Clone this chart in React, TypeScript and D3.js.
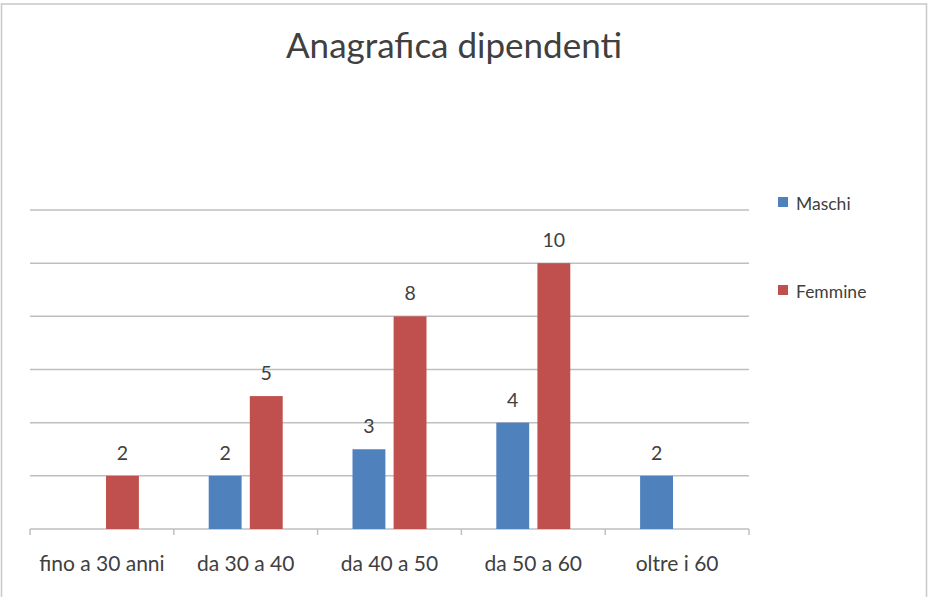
import React from "react";
import * as d3 from "d3";

const categories = ["fino a 30 anni", "da 30 a 40", "da 40 a 50", "da 50 a 60", "oltre i 60"];
const seriesNames = ["Maschi", "Femmine"];
const maschi: (number | null)[] = [null, 2, 3, 4, 2];
const femmine: (number | null)[] = [2, 5, 8, 10, null];
const yTicks = [0, 2, 4, 6, 8, 10, 12];
const colors = ["#4F81BD", "#C0504D"];
const title = "Anagrafica dipendenti";

const W = 928;
const H = 597;
const plot = { left: 30, right: 749, top: 210, bottom: 529 };
const FONT = "Lato, 'Open Sans', sans-serif";
const TEXT = "#404040";
const GRID = "#BFBFBF";

export default function App() {
  const x0 = d3.scaleBand<string>().domain(categories).range([plot.left, plot.right]).padding(0);
  const x1 = d3
    .scaleBand<string>()
    .domain(seriesNames)
    .range([-37, 37])
    .paddingInner(0.2)
    .paddingOuter(0);
  const y = d3.scaleLinear().domain([0, 12]).range([plot.bottom, plot.top]);
  const series = [maschi, femmine];

  const tickXs = categories.map((c) => x0(c) as number).concat([plot.right]);

  return (
    <svg
      width={W}
      height={H}
      style={{ position: "absolute", left: 0, top: 0, background: "#fff" }}
      fontFamily={FONT}
    >
      <rect x={1.5} y={4} width={925} height={H + 10} fill="#fff" stroke="#C8C8C8" strokeWidth={1.5} />
      <text x={454} y={58} textAnchor="middle" fontSize={35} fill={TEXT}>
        {title}
      </text>

      {yTicks.map((t) => (
        <line
          key={t}
          x1={plot.left}
          x2={plot.right}
          y1={y(t)}
          y2={y(t)}
          stroke={GRID}
          strokeWidth={1.5}
        />
      ))}
      {tickXs.map((tx, i) => (
        <line key={i} x1={tx} x2={tx} y1={plot.bottom} y2={plot.bottom + 6} stroke={GRID} strokeWidth={1.5} />
      ))}

      {categories.map((c, ci) => {
        const cx = (x0(c) as number) + x0.bandwidth() / 2;
        return (
          <g key={c}>
            {series.map((s, si) => {
              const v = s[ci];
              if (v == null) return null;
              const bx = cx + (x1(seriesNames[si]) as number);
              return (
                <g key={si}>
                  <rect
                    x={bx}
                    y={y(v)}
                    width={x1.bandwidth()}
                    height={y(0) - y(v)}
                    fill={colors[si]}
                  />
                  <text
                    x={bx + x1.bandwidth() / 2}
                    y={y(v) - 16}
                    textAnchor="middle"
                    fontSize={19.5}
                    fill={TEXT}
                  >
                    {v}
                  </text>
                </g>
              );
            })}
            <text x={cx} y={571} textAnchor="middle" fontSize={21} fill={TEXT}>
              {c}
            </text>
          </g>
        );
      })}

      {seriesNames.map((n, i) => (
        <g key={n} transform={`translate(778, ${197 + i * 88})`}>
          <rect x={0} y={0} width={10} height={10} fill={colors[i]} />
          <text x={18} y={13} fontSize={17.5} fill={TEXT}>
            {n}
          </text>
        </g>
      ))}
    </svg>
  );
}
